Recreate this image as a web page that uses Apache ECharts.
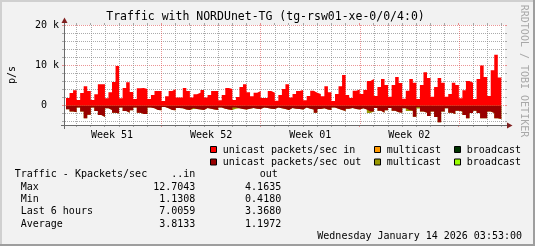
<!DOCTYPE html>
<html><head><meta charset="utf-8">
<script src="https://cdn.jsdelivr.net/npm/echarts@6/dist/echarts.min.js"></script>
<style>html,body{margin:0;padding:0;background:#f2f2f2;}#c{width:535px;height:246px;}</style>
</head><body><div id="c"></div>
<script>
const FONT = '"DejaVu Sans Mono", monospace';
const binHours = 6;

// unicast packets/sec in (k), one value per 6-hour bin
const inVals = [
 1.9,3.1,3.8,1.4,3.1,4.8,3.6,1.4,2.8,5.3,
 5.3,1.8,3.3,5.9,9.9,1.8,4.4,5.8,3.4,1.6,
 4.3,4.4,4.1,1.6,2.6,3.6,3.6,1.1,2.3,3.6,
 4.1,2.0,2.0,4.4,3.6,2.0,2.8,3.2,3.9,2.0,
 2.6,3.6,3.6,1.3,2.6,4.4,4.1,1.4,2.1,4.6,
 5.3,3.3,2.3,3.2,3.6,1.9,1.9,3.6,3.2,1.2,
 2.6,4.1,5.3,2.0,2.9,3.6,3.9,1.3,2.4,3.7,
 3.2,2.9,2.3,4.8,3.3,1.1,2.9,4.8,7.6,2.6,
 1.9,3.7,4.0,2.9,3.9,6.1,6.6,2.4,4.6,6.6,
 5.1,2.2,5.1,7.1,5.6,1.7,3.7,6.6,5.7,1.6,
 5.1,8.3,6.9,2.2,4.6,6.9,5.7,2.2,2.9,5.7,
 5.1,1.8,3.8,6.1,5.7,1.6,6.6,10.0,7.1,2.4,
 8.8,12.7,7.0
];
// unicast packets/sec out (k), drawn below zero
const outVals = [
 0.95,1.5,1.7,0.5,1.5,3.2,2.3,0.5,1.4,2.4,
 2.9,0.7,1.1,1.8,2.0,0.5,1.4,1.8,1.2,0.5,
 1.8,2.1,2.1,0.5,0.7,1.1,1.2,0.4,0.7,1.1,
 1.2,0.6,0.7,1.0,1.1,0.6,0.9,1.0,1.1,0.6,
 0.8,1.0,1.1,0.5,0.8,1.0,1.1,0.5,0.7,0.9,
 1.0,0.8,0.6,0.8,0.9,0.5,0.6,0.8,0.9,0.5,
 0.7,0.9,1.1,0.6,0.8,0.9,1.0,0.5,0.8,1.0,
 1.8,0.9,0.7,1.0,1.1,0.5,0.8,1.1,1.4,0.8,
 0.6,0.9,1.0,0.7,1.0,1.5,1.5,0.6,1.3,1.8,
 1.2,0.6,1.3,1.7,1.8,0.7,1.1,1.3,2.8,0.45,
 1.5,1.8,2.6,1.5,2.9,4.2,1.5,0.7,1.8,2.1,
 1.3,1.5,2.4,3.2,1.9,1.3,1.9,3.2,3.2,1.5,
 1.9,3.2,3.4
];
// multicast out (k), stacked below unicast out
const mcastOutVals = [
 0,0,0,0,0,0,0,0,0,0,
 0,0,0,0,0,0,0,0,0,0,
 0,0,0,0,0,0,0,0,0,0,
 0,0,0,0,0,0.3,0,0,0,0,
 0,0,0,0,0,0,0,0.3,0,0,
 0,0,0,0,0,0,0,0,0,0,
 0,0,0,0,0,0,0,0,0,0,
 0,0,0,0,0,0,0,0,0,0,
 0,0,0,0,0,0.4,0,0,0,0,
 0,0,0,0,0,0,0.3,0,0,0.3,
 0,0,0,0,0,0,0,0,0,0,
 0,0,0,0,0,0,0,0,0,0,
 0,0,0
];

const yLabelValues = [0, 10, 20];
const yLabelTexts = ['0  ', '10 k', '20 k'];
const weekLabels = ['Week 51', 'Week 52', 'Week 01', 'Week 02'];
const weekLineHours = [162, 330, 498, 666];
const weekLabelHours = weekLineHours.map(h => h - 84);

const legendNames = ['unicast packets/sec in', 'multicast', 'broadcast',
                     'unicast packets/sec out', 'multicast', 'broadcast'];
const legendColors = ['#ff0000', '#ff9900', '#003300', '#990000', '#999900', '#99ff00'];

const statHeader = ['Traffic - Kpackets/sec', '..in', 'out'];
const statRows = ['Max', 'Min', 'Last 6 hours', 'Average'];
const statIn = ['12.7043', '1.1308', '7.0059', '3.8133'];
const statOut = ['4.1635', '0.4180', '3.3680', '1.1972'];
const titleText = 'Traffic with NORDUnet-TG (tg-rsw01-xe-0/0/4:0)';
const footerText = 'Wednesday January 14 2026 03:53:00';

function steps(vals, sign) {
  const d = vals.map((v, i) => [i * binHours, sign * v]);
  d.push([vals.length * binHours, sign * vals[vals.length - 1]]);
  return d;
}
function findIdx(arr, v) { return arr.findIndex(a => Math.abs(a - v) < 1e-6); }
// multicast out sits below unicast out: its lower edge is out + multicast
const outPlusMcast = outVals.map((v, i) => v + mcastOutVals[i]);

function areaSeries(name, data, color, z) {
  return {
    name, type: 'line', step: 'end', data,
    xAxisIndex: 0, yAxisIndex: 0,
    showSymbol: false, symbol: 'none', silent: true, z,
    lineStyle: { width: 0, opacity: 0 },
    itemStyle: { color },
    areaStyle: { color, opacity: 1, origin: 0 }
  };
}

const X0 = 65, X1 = 505, Y0 = 125, Y1 = 25;
const XMIN = -1.6952, XMAX = 744.2, YMIN = -4.875, YMAX = 20.125;
const MINOR = 'rgba(143,143,143,0.75)', MAJOR = 'rgba(222,79,79,0.6)';
const DAY0 = 18, DAYSTEP = 24, DAYLAST = 738;
const hidden = { axisLine: { show: false }, axisTick: { show: false }, axisLabel: { show: false } };

const chart = echarts.init(document.getElementById('c'), null, { renderer: 'canvas' });
chart.setOption({
  animation: false,
  backgroundColor: '#f2f2f2',
  textStyle: { fontFamily: FONT },
  grid: [{ left: X0, top: Y1, width: X1 - X0, height: Y0 - Y1, show: true, backgroundColor: '#ffffff', borderWidth: 0 }],
  xAxis: [{
    type: 'value', gridIndex: 0, min: XMIN, max: XMAX,
    axisLine: { show: false }, axisTick: { show: false }, splitLine: { show: false },
    axisLabel: {
      customValues: weekLabelHours, margin: 5, lineHeight: 10,
      fontFamily: FONT, fontSize: 10, color: '#000',
      formatter: v => { const i = findIdx(weekLabelHours, v); return i >= 0 ? weekLabels[i] : ''; }
    }
  }],
  yAxis: [{
    type: 'value', gridIndex: 0, min: YMIN, max: YMAX,
    axisLine: { show: false }, axisTick: { show: false }, splitLine: { show: false },
    axisLabel: {
      customValues: yLabelValues, margin: 6,
      fontFamily: FONT, fontSize: 10, color: '#000',
      formatter: v => { const i = findIdx(yLabelValues, v); return i >= 0 ? yLabelTexts[i] : ''; }
    }
  }],
  series: [
    areaSeries('multicast out', steps(outPlusMcast, -1), '#999900', 2),
    areaSeries('unicast packets/sec out', steps(outVals, -1), '#990000', 3),
    areaSeries('unicast packets/sec in', steps(inVals, 1), '#ff0000', 3)
  ]
});

const px = h => chart.convertToPixel({ xAxisIndex: 0 }, h);
const py = v => chart.convertToPixel({ yAxisIndex: 0 }, v);

// Grid lines as split lines of helper axes (drawn beneath the series).
const dayColors = [MINOR, MINOR, MINOR, MINOR, MINOR, MINOR, MAJOR];   // every 7th day line = week
const hColors = [MINOR, MINOR, MAJOR, MINOR, MINOR];                  // -4,-2,0(red),2,4,...
const gH = { left: X0, width: X1 - X0, top: py(20), height: py(-4) - py(20), show: false };
const gV = { left: px(DAY0), width: px(DAYLAST) - px(DAY0), top: Y1, height: Y0 - Y1, show: false };
chart.setOption({
  grid: [{}, gH, gV],
  xAxis: [{},
    Object.assign({ type: 'value', gridIndex: 1, min: 0, max: 1, splitLine: { show: false } }, hidden),
    Object.assign({ type: 'value', gridIndex: 2, min: DAY0, max: DAYLAST, interval: DAYSTEP,
      splitLine: { show: true, lineStyle: { color: dayColors, width: 1, type: [1, 1] } } }, hidden)
  ],
  yAxis: [{},
    Object.assign({ type: 'value', gridIndex: 1, min: -4, max: 20, interval: 2,
      splitLine: { show: true, lineStyle: { color: hColors, width: 1, type: [1, 1] } } }, hidden),
    Object.assign({ type: 'value', gridIndex: 2, min: 0, max: 1, splitLine: { show: false } }, hidden)
  ]
});

// ---- decorations ----
const G = [];
function seg(x1, y1, x2, y2, color) {
  G.push({ type: 'line', silent: true, z: 5,
    shape: { x1, y1, x2, y2 }, style: { stroke: color, lineWidth: 1 } });
}
// small grid ticks outside the plot
const weekSet = new Set(weekLineHours);
for (let h = DAY0; h <= DAYLAST; h += DAYSTEP) {
  const x = Math.floor(px(h)) + 0.5;
  const c = weekSet.has(h) ? MAJOR : MINOR;
  seg(x, Y1 - 2, x, Y1, c);
  seg(x, Y0, x, Y0 + 2, c);
}
for (let v = -4; v <= 20; v += 2) {
  const y = Math.floor(py(v)) + 0.5;
  const c = yLabelValues.includes(v) ? MAJOR : MINOR;
  seg(X0 - 3, y, X0 - 1, y, c);
  seg(X1, y, X1 + 2, y, c);
}
// axes with arrows
seg(61, Y0 + 0.5, 508, Y0 + 0.5, '#6a6a6a');
seg(X0 - 0.5, Y0 + 4, X0 - 0.5, 22, '#6a6a6a');
G.push({ type: 'polygon', silent: true, z: 6, shape: { points: [[61.5, 23], [64.5, 17.5], [67.5, 23]] }, style: { fill: '#801f1f' } });
G.push({ type: 'polygon', silent: true, z: 6, shape: { points: [[507, 122.5], [512.5, 125.5], [507, 128.5]] }, style: { fill: '#801f1f' } });

function txt(text, x, y, opts) {
  G.push(Object.assign({ type: 'text', silent: true, z: 10, x, y,
    style: Object.assign({ text, font: '10px ' + FONT, fill: '#000', align: 'left', verticalAlign: 'middle' }, (opts && opts.style) || {}) },
    opts && opts.rotation !== undefined ? { rotation: opts.rotation } : {}));
}
txt(titleText, 265.5, 16.7, { style: { font: '11.5px ' + FONT, align: 'center' } });
txt('p/s', 12.5, 75, { rotation: Math.PI / 2, style: { align: 'center' } });
txt('RRDTOOL / TOBI OETIKER', 524, 71, { rotation: -Math.PI / 2, style: { align: 'center', fill: '#a8a8a8' } });

// legend (2 rows x 3 columns)
const legBoxX = [210.5, 374.5, 454.5];
const legRowY = [150, 162.5];
legendNames.forEach((name, i) => {
  const col = i % 3, row = Math.floor(i / 3);
  G.push({ type: 'rect', silent: true, z: 10,
    shape: { x: legBoxX[col], y: legRowY[row] - 3.5, width: 6, height: 6 },
    style: { fill: legendColors[i], stroke: '#000', lineWidth: 1 } });
  txt(name, legBoxX[col] + 12.3, legRowY[row]);
});

// statistics table
const rowY0 = 174.8, rowDy = 12.3;
txt(statHeader[0], 14.7, rowY0);
txt(statHeader[1], 195.3, rowY0, { style: { align: 'right' } });
txt(statHeader[2], 277.8, rowY0, { style: { align: 'right' } });
statRows.forEach((r, i) => {
  const y = rowY0 + rowDy * (i + 1);
  txt(r, 20.7, y);
  txt(statIn[i], 195.3, y, { style: { align: 'right' } });
  txt(statOut[i], 281.2, y, { style: { align: 'right' } });
});
txt(footerText, 522, rowY0 + rowDy * 5, { style: { align: 'right' } });

// 3D shade frame
G.push({ type: 'rect', silent: true, z: 20, shape: { x: 0, y: 0, width: 535, height: 2 }, style: { fill: '#d0d0d0' } });
G.push({ type: 'rect', silent: true, z: 20, shape: { x: 0, y: 0, width: 2, height: 246 }, style: { fill: '#d0d0d0' } });
G.push({ type: 'rect', silent: true, z: 21, shape: { x: 533, y: 0, width: 2, height: 246 }, style: { fill: '#9e9e9e' } });
G.push({ type: 'rect', silent: true, z: 21, shape: { x: 0, y: 244, width: 535, height: 2 }, style: { fill: '#9e9e9e' } });

chart.setOption({ graphic: { elements: G } });
</script>
</body></html>
